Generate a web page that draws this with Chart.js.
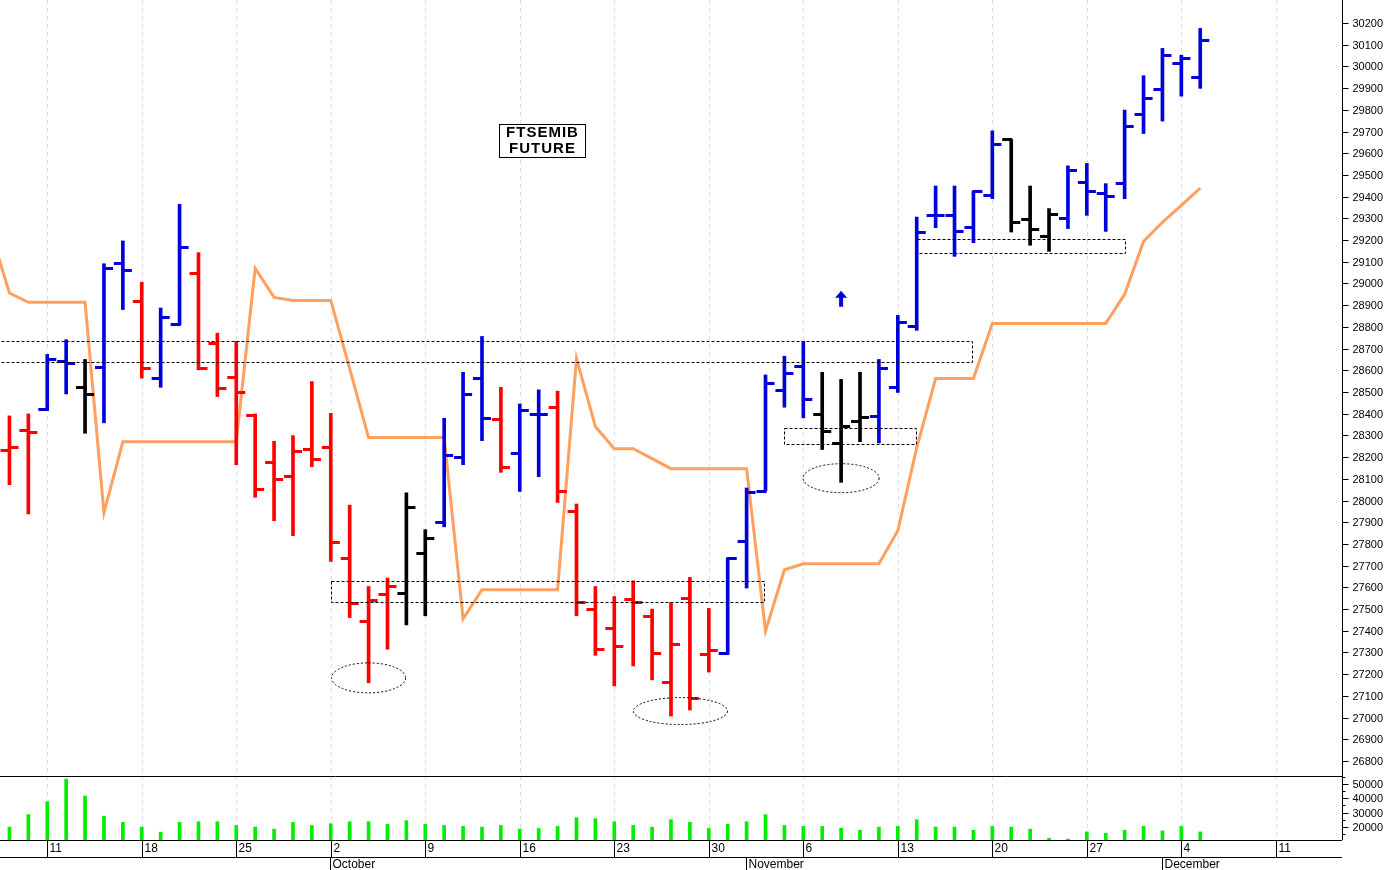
<!DOCTYPE html>
<html>
<head>
<meta charset="utf-8">
<script src="https://cdn.jsdelivr.net/npm/chart.js@4.4.0/dist/chart.umd.min.js"></script>
<style>
  body { margin: 0; background: #fff; overflow: hidden; }
  #priceBox { position: absolute; left: 0; top: 0; width: 1391px; height: 776px; }
  #volBox { position: absolute; left: 0; top: 776px; width: 1391px; height: 94px; }
</style>
</head>
<body>
<div id="priceBox"><canvas id="price"></canvas></div>
<div id="volBox"><canvas id="vol"></canvas></div>
<script>
// Bars start on Thu 7 Sep (index -2); index 0 = Mon 11 Sep, one index per trading day
const firstIndex = -2;
const highs = [28390,28399,28673,28741,28650,29091,29196,29006,28887,29365,29142,28771,28734,28399,28273,28299,28548,28402,27979,27604,27643,28036,27866,28379,28591,28756,28522,28445,28510,28504,27984,27604,27558,27630,27500,27530,27646,27503,27735,28058,28579,28665,28734,28591,28558,28591,28650,28853,29306,29449,29449,29425,29703,29663,29449,29345,29542,29553,29460,29799,29957,30083,30052,30175];
const lows = [28073,27938,28415,28491,28310,28358,28880,28564,28522,28810,28602,28479,28165,28015,27907,27838,28156,27719,27461,27161,27315,27427,27469,27879,28165,28276,28130,28042,28110,27991,27469,27287,27146,27238,27174,27007,27035,27210,27292,27597,28045,28430,28381,28235,28084,28271,28265,28498,28784,29257,29125,29188,29391,29237,29176,29148,29253,29314,29240,29391,29691,29748,29863,29899];
const opens = [28230,28322,28418,28641,28522,28611,29094,28917,28562,28810,29045,28722,28567,28391,28173,28111,28235,28244,27735,27444,27569,27573,27758,27901,28199,28561,28372,28215,28395,28427,27949,27498,27410,27544,27464,27161,27550,27289,27295,27812,28042,28507,28618,28395,28261,28365,28388,28522,28802,29314,29314,29257,29406,29663,29296,29217,29299,29465,29414,29460,29779,29895,30014,29948];
const closes = [28245,28312,28648,28633,28487,29068,29060,28607,28844,29165,28607,28516,28498,28053,28095,28224,28187,27807,27524,27538,27606,27970,27827,28206,28487,28376,28152,28415,28395,28041,27530,27313,27329,27529,27295,27335,27089,27307,27735,28035,28538,28584,28464,28318,28342,28384,28607,28819,29237,29314,29240,29425,29642,29279,29250,29319,29522,29425,29402,29725,29852,30052,30037,30121];
// r = down signal, b = up signal, k = neutral
const signal = 'rrbbkbbrbbrrrrrrrrrrrkkbbbrbbrrrrrrrrrbbbbbkkkbbbbbbbkkkbbbbbbbb'.split('');
const volumes = [19760,28560,37600,53560,41650,27400,23090,19760,16190,23090,23560,23560,20950,19760,18330,23090,20950,22140,23560,23560,21660,24280,21660,20950,20230,19760,20950,18330,18800,20230,26420,25710,23560,20950,19760,25000,23090,18800,21660,23560,28560,20950,20230,20230,19040,17620,19760,20230,25000,19760,19760,17620,20230,19760,18330,11900,11400,16430,15470,17620,20230,17140,20230,16430];
// orange stop line, starts one day earlier (index -3)
const stopStart = -3;
const stopLine = [29240,28956,28913,28913,28913,28913,27944,28271,28271,28271,28271,28271,28271,28271,29070,28936,28922,28922,28922,28608,28290,28290,28290,28290,28290,27455,27589,27589,27589,27589,27589,28654,28341,28239,28239,28193,28147,28147,28147,28147,28147,27399,27681,27709,27709,27709,27709,27709,27861,28244,28562,28562,28562,28816,28816,28816,28816,28816,28816,28816,28950,29194,29282,29360,29439];
const weekLabels = ['11','18','25','2','9','16','23','30','6','13','20','27','4','11'];
const months = [{i: 15, name: 'October'}, {i: 37, name: 'November'}, {i: 59, name: 'December'}];
const priceTicks = [];
for (let p = 26800; p <= 30200; p += 100) priceTicks.push(p);
const volTicks = [20000, 30000, 40000, 50000];

const colorOf = { r: '#ff0000', b: '#0000dd', k: '#000000' };
const X_MIN = -2.5, X_MAX = 68.5;

function tickImg(color, side) {
    const c = document.createElement('canvas');
    c.width = 20; c.height = 3;
    const g = c.getContext('2d');
    g.fillStyle = color;
    if (side < 0) g.fillRect(1, 0, 10, 3); else g.fillRect(9, 0, 10, 3);
    return c;
}
const imgs = {};
for (const k in colorOf) imgs[k] = { left: tickImg(colorOf[k], -1), right: tickImg(colorOf[k], 1) };

const xs = highs.map((_, n) => firstIndex + n);

// dashed week grid + right axis labels, shared by both panels
function drawFrame(chart, labels, minor) {
    const c = chart.ctx, x = chart.scales.x, y = chart.scales.y, a = chart.chartArea;
    c.save();
    c.strokeStyle = '#dcdce6'; c.lineWidth = 1; c.setLineDash([4, 4]);
    weekLabels.forEach((_, k) => {
        const px = Math.round(x.getPixelForValue(k * 5)) + 0.5;
        c.beginPath(); c.moveTo(px, a.top); c.lineTo(px, a.bottom); c.stroke();
    });
    c.setLineDash([]);
    c.strokeStyle = '#000';
    const ax = Math.round(a.right) + 0.5;
    c.beginPath(); c.moveTo(ax, a.top); c.lineTo(ax, a.bottom); c.stroke();
    c.fillStyle = '#000'; c.font = '11px Arial'; c.textAlign = 'left'; c.textBaseline = 'middle';
    minor.forEach(v => {
        const py = Math.round(y.getPixelForValue(v)) + 0.5;
        c.beginPath(); c.moveTo(ax, py); c.lineTo(ax + 3, py); c.stroke();
    });
    labels.forEach(v => {
        const py = Math.round(y.getPixelForValue(v)) + 0.5;
        c.beginPath(); c.moveTo(ax, py); c.lineTo(ax + 6, py); c.stroke();
        c.fillText(String(v), ax + 10, py);
    });
    c.restore();
}

const priceAnnot = {
    id: 'priceAnnot',
    beforeDatasetsDraw(chart) { drawFrame(chart, priceTicks, []); },
    afterDatasetsDraw(chart) {
        const c = chart.ctx, x = chart.scales.x, y = chart.scales.y, a = chart.chartArea;
        c.save();
        c.beginPath(); c.rect(a.left, a.top, a.right - a.left, a.bottom - a.top); c.clip();
        c.strokeStyle = '#000'; c.lineWidth = 1; c.setLineDash([3, 2]);
        const rects = [[-3, 48.9, 28733, 28636], [15, 37.9, 27630, 27533], [39, 46, 28332, 28258], [46, 57, 29203, 29139]];
        rects.forEach(r => {
            const l = x.getPixelForValue(r[0]), rr = x.getPixelForValue(r[1]);
            const t = y.getPixelForValue(r[2]), b = y.getPixelForValue(r[3]);
            c.strokeRect(Math.round(l) + 0.5, Math.round(t) + 0.5, Math.round(rr - l), Math.round(b - t));
        });
        c.setLineDash([2, 2]);
        [[17, 27183, 37, 15], [33.5, 27030, 47, 13.5], [42, 28103, 38, 14.5]].forEach(e => {
            c.beginPath();
            c.ellipse(x.getPixelForValue(e[0]), y.getPixelForValue(e[1]), e[2], e[3], 0, 0, Math.PI * 2);
            c.stroke();
        });
        c.setLineDash([]);
        // arrow
        const ax = x.getPixelForValue(42), ay = y.getPixelForValue(28930);
        c.fillStyle = '#0000dd';
        c.beginPath();
        c.moveTo(ax, ay - 8); c.lineTo(ax + 6, ay - 1); c.lineTo(ax + 2, ay - 1); c.lineTo(ax + 2, ay + 8);
        c.lineTo(ax - 2, ay + 8); c.lineTo(ax - 2, ay - 1); c.lineTo(ax - 6, ay - 1); c.closePath(); c.fill();
        // title box
        const tx = x.getPixelForValue(26.2), ty = y.getPixelForValue(29660);
        c.fillStyle = '#fff'; c.fillRect(tx - 43, ty - 16, 86, 33);
        c.strokeStyle = '#000'; c.strokeRect(Math.round(tx - 43) + 0.5, Math.round(ty - 16) + 0.5, 86, 33);
        c.fillStyle = '#000'; c.font = 'bold 15px "Liberation Sans", Arial'; c.textAlign = 'center'; c.textBaseline = 'middle';
        c.letterSpacing = '1px';
        c.fillText('FTSEMIB', tx, ty - 7); c.fillText('FUTURE', tx, ty + 9);
        c.restore();
    }
};

const hiddenX = { type: 'linear', min: X_MIN, max: X_MAX, offset: false, display: false };

new Chart(document.getElementById('price'), {
    type: 'bar',
    data: {
        datasets: [
            {
                type: 'line',
                data: stopLine.map((v, n) => ({ x: stopStart + n, y: v })),
                borderColor: '#ffa060', borderWidth: 3, pointRadius: 0, tension: 0, order: 3
            },
            {
                type: 'bar',
                data: xs.map((i, n) => ({ x: i, y: [lows[n], highs[n]] })),
                backgroundColor: signal.map(s => colorOf[s]),
                barThickness: 3, borderWidth: 0, order: 2
            },
            {
                type: 'scatter',
                data: xs.map((i, n) => ({ x: i, y: opens[n] })),
                pointStyle: ctx => imgs[signal[ctx.dataIndex]].left, order: 1
            },
            {
                type: 'scatter',
                data: xs.map((i, n) => ({ x: i, y: closes[n] })),
                pointStyle: ctx => imgs[signal[ctx.dataIndex]].right, order: 1
            }
        ]
    },
    options: {
        responsive: true, maintainAspectRatio: false, animation: false,
        layout: { autoPadding: false, padding: { left: 0, top: 0, bottom: 0, right: 49 } },
        plugins: { legend: { display: false }, tooltip: { enabled: false } },
        scales: {
            x: hiddenX,
            y: { min: 26731, max: 30306, display: false }
        }
    },
    plugins: [priceAnnot]
});

const volAxis = {
    id: 'volAxis',
    beforeDatasetsDraw(chart) {
        const minor = [];
        for (let v = 15000; v <= 55000; v += 10000) minor.push(v);
        drawFrame(chart, volTicks, minor);
    },
    afterDraw(chart) {
        const c = chart.ctx, x = chart.scales.x, a = chart.chartArea;
        c.save();
        c.strokeStyle = '#000'; c.lineWidth = 1;
        c.beginPath();
        c.moveTo(0, a.top + 0.5); c.lineTo(a.right, a.top + 0.5);
        c.moveTo(0, a.bottom + 0.5); c.lineTo(a.right, a.bottom + 0.5);
        c.moveTo(0, a.bottom + 17.5); c.lineTo(a.right, a.bottom + 17.5);
        c.stroke();
        c.fillStyle = '#000'; c.font = '12px Arial'; c.textBaseline = 'middle'; c.textAlign = 'left';
        weekLabels.forEach((t, k) => {
            const px = Math.round(x.getPixelForValue(k * 5)) + 0.5;
            c.beginPath(); c.moveTo(px, a.bottom); c.lineTo(px, a.bottom + 17); c.stroke();
            c.fillText(t, px + 2, a.bottom + 9);
        });
        months.forEach(m => {
            const px = Math.round(x.getPixelForValue(m.i) - 0.5) + 0.5;
            c.beginPath(); c.moveTo(px, a.bottom + 17); c.lineTo(px, a.bottom + 30); c.stroke();
            c.fillText(m.name, px + 2, a.bottom + 25);
        });
        c.restore();
    }
};

new Chart(document.getElementById('vol'), {
    type: 'bar',
    data: {
        datasets: [{
            data: xs.map((i, n) => ({ x: i, y: volumes[n] })),
            backgroundColor: '#00ee00', barThickness: 3, borderWidth: 0
        }]
    },
    options: {
        responsive: true, maintainAspectRatio: false, animation: false,
        layout: { autoPadding: false, padding: { left: 0, top: 0, bottom: 30, right: 49 } },
        plugins: { legend: { display: false }, tooltip: { enabled: false } },
        scales: {
            x: hiddenX,
            y: { min: 10714, max: 55700, display: false }
        }
    },
    plugins: [volAxis]
});
</script>
</body>
</html>
